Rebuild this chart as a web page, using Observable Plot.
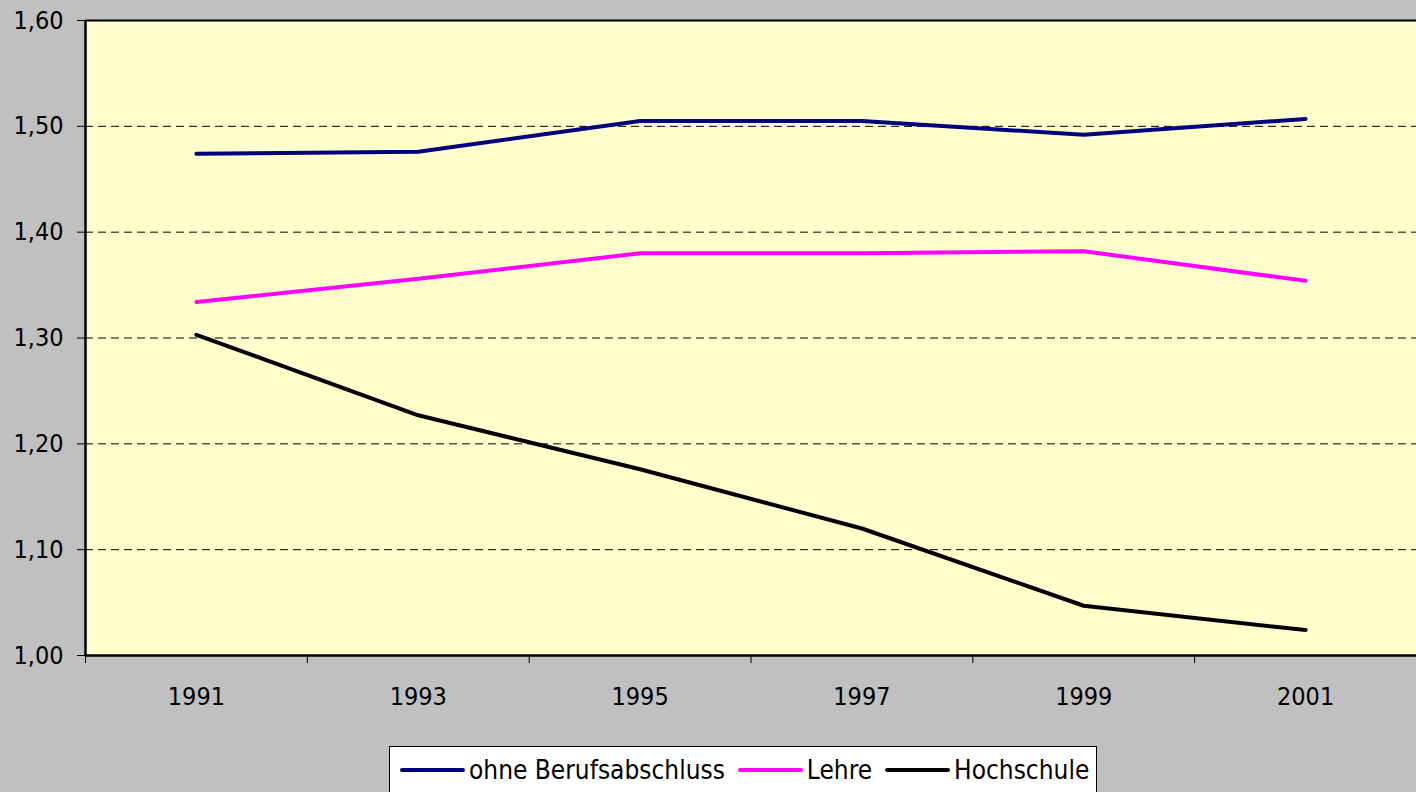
<!DOCTYPE html>
<html>
<head>
<meta charset="utf-8">
<script src="https://cdn.jsdelivr.net/npm/d3@7"></script>
<script src="https://cdn.jsdelivr.net/npm/@observablehq/plot@0.6"></script>
<style>
  html, body { margin: 0; padding: 0; background: #C0C0C0; width: 1416px; height: 792px; overflow: hidden; }
  body { position: relative; font-family: "DejaVu Sans Condensed", "DejaVu Sans", sans-serif; }
  #chart svg { display: block; background: transparent; }
  #legend {
    position: absolute; left: 389px; top: 746px; width: 708px; height: 52px;
    background: #ffffff; border: 1px solid #000; box-sizing: border-box;
    display: flex; align-items: center; padding-left: 10px; padding-bottom: 4px;
    font-size: 26px; color: #000; white-space: nowrap;
  }
  .item { display: flex; align-items: center; margin-right: 13px; }
  .swatch { display: inline-block; width: 65px; height: 4px; border-radius: 2px; margin-right: 4px; }
</style>
</head>
<body>
<div id="chart"></div>
<div id="legend"></div>
<script>
const years = [1991, 1993, 1995, 1997, 1999, 2001];
const seriesNames = ["ohne Berufsabschluss", "Lehre", "Hochschule"];
const seriesColors = ["#000080", "#FF00FF", "#000000"];
const ohneBerufsabschluss = [1.474, 1.476, 1.505, 1.505, 1.492, 1.507];
const lehre = [1.334, 1.356, 1.380, 1.380, 1.382, 1.354];
const hochschule = [1.303, 1.227, 1.176, 1.120, 1.047, 1.024];
const yTicks = [1.0, 1.1, 1.2, 1.3, 1.4, 1.5, 1.6];
const gridTicks = [1.1, 1.2, 1.3, 1.4, 1.5];
const categoryBounds = [1990, 1992, 1994, 1996, 1998, 2000, 2002];

const seriesValues = [ohneBerufsabschluss, lehre, hochschule];
const data = seriesNames.flatMap((name, i) =>
  years.map((year, j) => ({ series: name, year, value: seriesValues[i][j] }))
);

const fmt = d => d.toFixed(2).replace(".", ",");

const chart = Plot.plot({
  width: 1416,
  height: 740,
  marginLeft: 85,
  marginRight: 0,
  marginTop: 20,
  marginBottom: 85,
  style: { fontFamily: '"DejaVu Sans Condensed", "DejaVu Sans", sans-serif', fontSize: "25px", color: "#000", background: "transparent" },
  x: { domain: [1990, 2002], axis: null },
  y: { domain: [1.0, 1.6], axis: null },
  color: { domain: seriesNames, range: seriesColors },
  marks: [
    Plot.frame({ fill: "#FFFFCC", stroke: null }),
    Plot.ruleY(gridTicks, { stroke: "#000", strokeWidth: 1, strokeDasharray: "8,5" }),
    Plot.ruleY([1.6], { stroke: "#000", strokeWidth: 2 }),
    Plot.axisY(yTicks, { tickFormat: fmt, tickSize: 8, tickPadding: 14, stroke: "#000", strokeWidth: 1, fontSize: 25, label: null }),
    Plot.axisX(categoryBounds, { tickFormat: () => "", tickSize: 8, tickPadding: 0, stroke: "#000", label: null }),
    Plot.axisX(years, { tickFormat: d => String(d), tickSize: 0, tickPadding: 32, fontSize: 25, label: null }),
    Plot.line(data, { x: "year", y: "value", z: "series", stroke: "series", strokeWidth: 4, strokeLinejoin: "miter", strokeLinecap: "round" }),
    Plot.ruleX([1990], { stroke: "#000", strokeWidth: 2.5 }),
    Plot.ruleY([1.0], { stroke: "#000", strokeWidth: 2.5 })
  ]
});
document.getElementById("chart").appendChild(chart);

const legend = document.getElementById("legend");
seriesNames.forEach((name, i) => {
  const item = document.createElement("span");
  item.className = "item";
  const sw = document.createElement("span");
  sw.className = "swatch";
  sw.style.background = seriesColors[i];
  const label = document.createElement("span");
  label.textContent = name;
  item.appendChild(sw);
  item.appendChild(label);
  legend.appendChild(item);
});
</script>
</body>
</html>
